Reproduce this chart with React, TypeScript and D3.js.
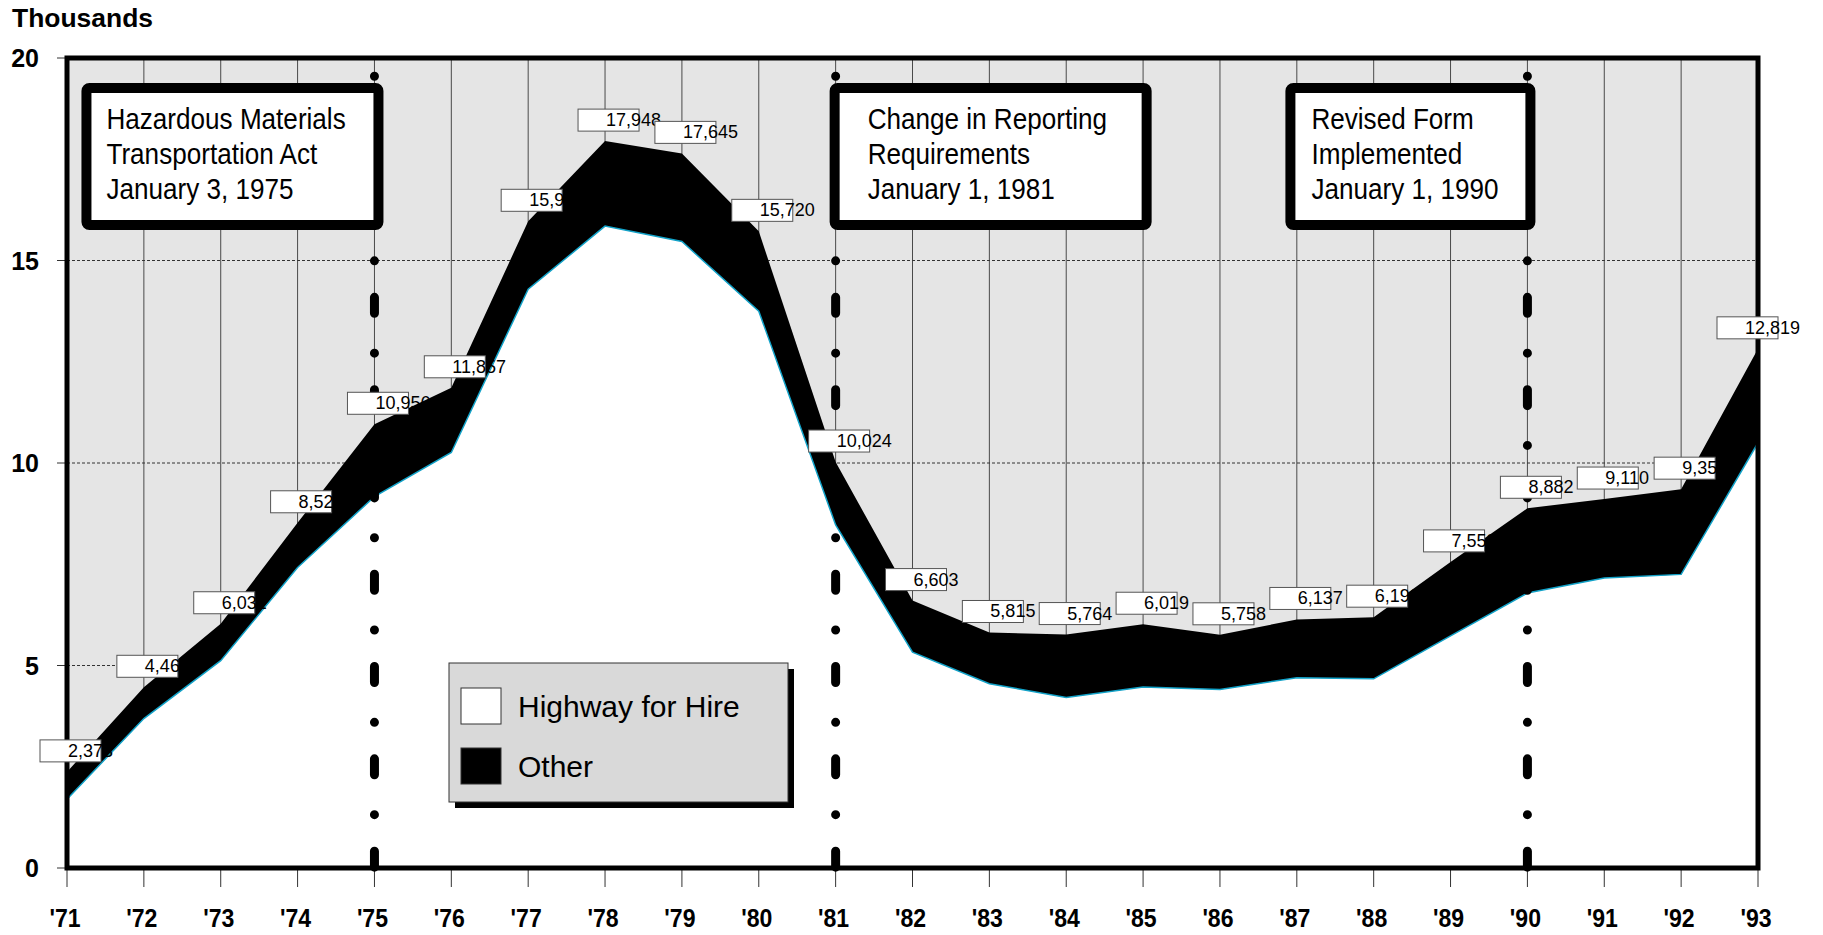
import React from 'react';
import * as d3 from 'd3';

// values (thousands of incidents per year)
const years = ["'71", "'72", "'73", "'74", "'75", "'76", "'77", "'78", "'79", "'80", "'81", "'82",
    "'83", "'84", "'85", "'86", "'87", "'88", "'89", "'90", "'91", "'92", "'93"];
const totalIncidents = [2373, 4462, 6031, 8524, 10956, 11857, 15968, 17948, 17645, 15720, 10024, 6603,
    5815, 5764, 6019, 5758, 6137, 6193, 7558, 8882, 9110, 9354, 12819];
const highwayForHire = [1700, 3690, 5120, 7420, 9170, 10260, 14290, 15850, 15470, 13750, 8470, 5330,
    4550, 4210, 4470, 4410, 4700, 4670, 5730, 6790, 7160, 7250, 10500];
const yTicks = [0, 5, 10, 15, 20];
const legendItems = ['Highway for Hire', 'Other'];
const eventYears = ["'75", "'81", "'90"];
const eventNotes = [
    ['Hazardous Materials', 'Transportation Act', 'January 3, 1975'],
    ['Change in Reporting', 'Requirements', 'January 1, 1981'],
    ['Revised Form', 'Implemented', 'January 1, 1990'],
];

const FONT = "'Liberation Sans', Arial, Helvetica, sans-serif";
const plot = { left: 67, right: 1758, top: 58, bottom: 868 };

export default function App() {
    const x = d3.scalePoint<string>().domain(years).range([plot.left, plot.right]);
    const y = d3.scaleLinear().domain([0, 20]).range([plot.bottom, plot.top]);
    const fmt = d3.format(',');

    const totalArea = d3.area<number>()
        .x((d, i) => x(years[i]) as number)
        .y0(y(0))
        .y1((d) => y(d / 1000));
    const hireLine = d3.line<number>()
        .x((d, i) => x(years[i]) as number)
        .y((d) => y(d / 1000));

    // label box geometry for each year (box is narrower than its text, as in the original)
    const labels = totalIncidents.map((v, i) => {
        let px = x(years[i]) as number;
        px -= Math.max(0, px + 56 - 1800);
        const bottom = y(v / 1000) - 10;
        return { v, bx: px - 27, by: bottom - 22, tx: px + 1, ty: bottom - 5 };
    });

    // annotation boxes: which side of the event line they hang from
    const noteBoxes = [
        { side: 'end', width: 302, pad: 25, off: 9 },
        { side: 'start', width: 322, pad: 38, off: -6 },
        { side: 'end', width: 250, pad: 26, off: 8 },
    ];

    return (
        <svg width={1823} height={935} style={{ position: 'absolute', left: 0, top: 0 }} fontFamily={FONT}>
            <rect width={1823} height={935} fill="#fff" />

            <text x={12} y={27} fontSize={25} fontWeight="bold" textLength={141} lengthAdjust="spacingAndGlyphs">Thousands</text>

            {/* plot background + grid */}
            <rect x={plot.left} y={plot.top} width={plot.right - plot.left} height={plot.bottom - plot.top} fill="#e5e5e5" />
            {years.map((yr) => (
                <line key={'g' + yr} x1={x(yr)} x2={x(yr)} y1={plot.top} y2={plot.bottom} stroke="#4a4a4a" strokeWidth={1} />
            ))}
            {yTicks.filter((t) => t > 0 && t < 20).map((t) => (
                <line key={'h' + t} x1={plot.left} x2={plot.right} y1={y(t)} y2={y(t)} stroke="#333" strokeWidth={1} strokeDasharray="3,2" />
            ))}

            {/* y axis */}
            {yTicks.map((t) => (
                <g key={'y' + t}>
                    <line x1={57} x2={plot.left} y1={y(t)} y2={y(t)} stroke="#333" strokeWidth={1} />
                    <text x={39} y={y(t) + 9} textAnchor="end" fontSize={25} fontWeight="bold">{t}</text>
                </g>
            ))}

            {/* x axis */}
            {years.map((yr) => (
                <g key={'x' + yr}>
                    <line x1={x(yr)} x2={x(yr)} y1={plot.bottom} y2={887} stroke="#333" strokeWidth={1} />
                    <g transform={`translate(${(x(yr) as number) - 2},927) scale(0.87,1)`}>
                        <text textAnchor="middle" fontSize={26.5} fontWeight="bold">{yr}</text>
                    </g>
                </g>
            ))}

            <path d={totalArea(totalIncidents) || ''} fill="#000" />
            <path d={totalArea(highwayForHire) || ''} fill="#fff" />
            <path d={hireLine(highwayForHire) || ''} fill="none" stroke="#12a2c8" strokeWidth={1.5} />

            {/* frame */}
            <rect x={plot.left} y={plot.top} width={plot.right - plot.left} height={plot.bottom - plot.top}
                fill="none" stroke="#000" strokeWidth={5} />

            {/* dash-dot event lines */}
            {eventYears.map((yr) => (
                <line key={'e' + yr} x1={x(yr)} x2={x(yr)} y1={y(19.55)} y2={y(0)} stroke="#000" strokeWidth={9}
                    strokeLinecap="round" strokeDasharray="0 36.5 16 39.8" />
            ))}

            {/* value labels: black text runs past the box and vanishes over the black band */}
            {labels.map((l, i) => (
                <g key={'l' + i}>
                    <rect x={l.bx} y={l.by} width={61} height={22} fill="#fff" stroke="#555" strokeWidth={1} />
                    <text x={l.tx} y={l.ty} fontSize={18}>{fmt(l.v)}</text>
                </g>
            ))}

            {/* event notes */}
            {eventYears.map((yr, i) => {
                const b = noteBoxes[i];
                const ex = (x(yr) as number) + b.off;
                const left = b.side === 'end' ? ex - b.width : ex;
                return (
                    <g key={'n' + yr}>
                        <rect x={left + 5} y={88} width={b.width - 10} height={137} rx={3} fill="#fff" stroke="#000" strokeWidth={10} />
                        {eventNotes[i].map((ln, j) => (
                            <g key={j} transform={`translate(${left + b.pad},${129 + j * 35}) scale(0.9,1)`}>
                                <text fontSize={29}>{ln}</text>
                            </g>
                        ))}
                    </g>
                );
            })}

            {/* legend */}
            <g>
                <rect x={455} y={669} width={339} height={139} fill="#000" />
                <rect x={449} y={663} width={339} height={139} fill="#d9d9d9" stroke="#333" strokeWidth={1} />
                {legendItems.map((name, i) => (
                    <g key={name}>
                        <rect x={461} y={688 + i * 60} width={40} height={36} fill={i === 0 ? '#fff' : '#000'} stroke="#333" strokeWidth={1} />
                        <text x={518} y={717 + i * 60} fontSize={30}>{name}</text>
                    </g>
                ))}
            </g>
        </svg>
    );
}
